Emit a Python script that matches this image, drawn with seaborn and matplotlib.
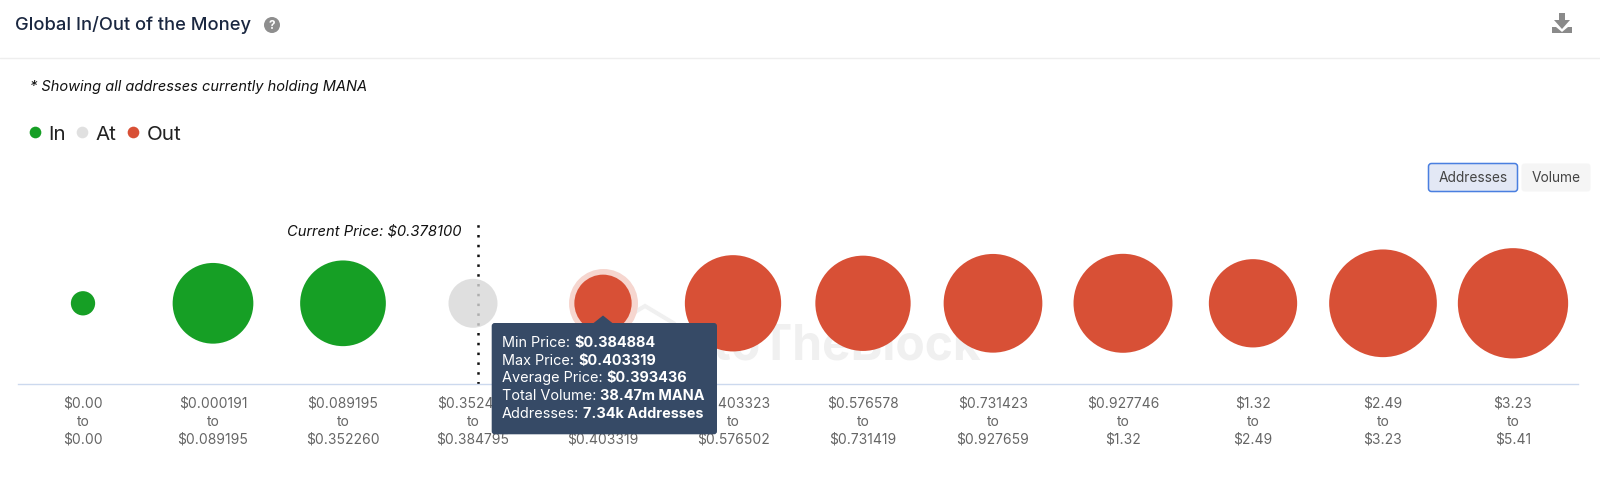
import numpy as np
import pandas as pd
import matplotlib
matplotlib.use("Agg")
import matplotlib.pyplot as plt
import seaborn as sns
from matplotlib.lines import Line2D
from matplotlib.patches import Circle, FancyBboxPatch, Polygon

# ---------------------------
# Data
# ---------------------------
range_low = ["$0.00", "$0.000191", "$0.089195", "$0.352410", "$0.384884", "$0.403323",
             "$0.576578", "$0.731423", "$0.927746", "$1.32", "$2.49", "$3.23"]
range_high = ["$0.00", "$0.089195", "$0.352260", "$0.384795", "$0.403319", "$0.576502",
              "$0.731419", "$0.927659", "$1.32", "$2.49", "$3.23", "$5.41"]
addresses_k = [1.32, 14.56, 16.42, 5.37, 7.34, 20.73, 20.30, 21.78, 21.90, 17.43, 25.93, 27.20]
status = ["In", "In", "In", "At", "Out", "Out", "Out", "Out", "Out", "Out", "Out", "Out"]

tooltip_keys = ["Min Price:", "Max Price:", "Average Price:", "Total Volume:", "Addresses:"]
tooltip_vals = ["$0.384884", "$0.403319", "$0.393436", "38.47m MANA", "7.34k Addresses"]

GREEN = "#169f25"
GREY = "#e0e0e0"
RED = "#d85036"
W, H = 1600, 481

sns.set_theme(style="white")
plt.rcParams["font.family"] = ["Inter", "DejaVu Sans"]

df = pd.DataFrame({
    "range": [f"{a}\nto\n{b}" for a, b in zip(range_low, range_high)],
    "addresses": addresses_k,
    "status": status,
})
df["level"] = 0

fig = plt.figure(figsize=(16, 4.81), dpi=100, facecolor="white")

# page furniture goes on pixel-coordinate axes, one behind the chart and one over it
back = fig.add_axes([0, 0, 1, 1], zorder=0)
front = fig.add_axes([0, 0, 1, 1], zorder=3)
for a in (back, front):
    a.set_xlim(0, W)
    a.set_ylim(H, 0)
    a.axis("off")
    a.patch.set_alpha(0)

ax = fig.add_axes([18 / W, 1 - 385 / H, 1560 / W, (385 - 223.6) / H], zorder=2)
ax.patch.set_alpha(0)

# the grey bubble is see-through, the dotted line shows faintly under it
palette = {"In": GREEN, "At": (0.847, 0.847, 0.847, 0.8), "Out": RED}

ax.axvline(3.04, color="#111111", lw=1.8, linestyle=(0, (1, 2.92)), zorder=1)

sns.scatterplot(data=df, x="range", y="level", hue="status", palette=palette,
                size="addresses", sizes=(0, 6957), size_norm=(0, 30),
                linewidth=0, legend=False, ax=ax, zorder=3)
hover = df[df["addresses"] == 7.34]
sns.scatterplot(data=hover, x="range", y="level", s=(69 * 0.72) ** 2, color="#f6d6cf",
                linewidth=0, legend=False, ax=ax, zorder=2)

ax.set_xlim(-0.5, 11.5)
ax.set_ylim(-1, 1)
ax.set_xlabel("")
ax.set_ylabel("")
ax.set_yticks([])
ax.tick_params(axis="x", length=0, pad=8.5, labelsize=10, labelcolor="#666666")
for lab in ax.get_xticklabels():
    lab.set_linespacing(1.36)
sns.despine(ax=ax, left=True)
ax.spines["bottom"].set_color("#ccd9ee")
ax.spines["bottom"].set_linewidth(1.0)

ax.text(3.04 - 16.5 / 130, 0.905, "Current Price: $0.378100", ha="right", va="center",
        fontsize=10.6, style="italic", color="#111111")

# watermark
back.add_patch(Polygon([(615, 325), (645, 307), (675, 325)], closed=False, fill=False,
                       edgecolor="#f0f0f0", lw=3))
back.text(982, 360, "IntoTheBlock", ha="right", va="baseline", fontsize=34.5, weight="bold",
          color="#f0f0f0")

# header
back.text(15, 24.5, "Global In/Out of the Money", ha="left", va="center", fontsize=13.2,
          weight="medium", color="#1a2740")
back.add_patch(Circle((272, 26), 8, color="#8e8e8e", lw=0))
back.text(272, 26, "?", ha="center", va="center", fontsize=8.5, weight="bold", color="white")
back.axhline(58.5, color="#eeeeee", lw=1)

# download icon
back.add_patch(Polygon([(1559, 14), (1565, 14), (1565, 21), (1570, 21), (1562, 30), (1554, 21), (1559, 21)],
                       color="#8a8a8a", lw=0))
back.add_patch(Polygon([(1552, 28), (1556, 28), (1562, 33), (1568, 28), (1572, 28), (1572, 34), (1552, 34)],
                       color="#8a8a8a", lw=0))

back.text(30, 87, "* Showing all addresses currently holding MANA", ha="left", va="center",
          fontsize=10.5, style="italic", color="#111111")

# legend
handles = [Line2D([], [], marker="o", linestyle="none", markersize=8.4, markeredgewidth=0,
                  color=c, label=l) for l, c in [("In", GREEN), ("At", GREY), ("Out", RED)]]
fig.legend(handles=handles, loc="center left", bbox_to_anchor=(6 / W, 1 - 135 / H), ncols=3,
           frameon=False, fontsize=14.8, handlelength=1, handletextpad=0.145, columnspacing=0.31,
           labelcolor="#222222")

# Addresses / Volume toggle
back.add_patch(FancyBboxPatch((1428.5, 164.5), 89, 28, boxstyle="round,pad=0,rounding_size=3",
                              facecolor="#e3e8f5", edgecolor="#4a7fe0", lw=1.1))
back.text(1473, 178.5, "Addresses", ha="center", va="center", fontsize=9.9, color="#444444")
back.add_patch(FancyBboxPatch((1521.5, 164.5), 69, 28, boxstyle="round,pad=0,rounding_size=3",
                              facecolor="#f5f5f5", edgecolor="none"))
back.text(1556, 178.5, "Volume", ha="center", va="center", fontsize=9.9, color="#444444")

# tooltip on the hovered bubble
TIP = "#364a66"
front.add_patch(FancyBboxPatch((491.7, 324), 225.3, 111.3, boxstyle="round,pad=0,rounding_size=3",
                               facecolor=TIP, edgecolor="none"))
front.add_patch(Polygon([(593, 324.5), (603, 316.5), (613, 324.5)], color=TIP, lw=0))
renderer = fig.canvas.get_renderer()
y = 342.7
for key, val in zip(tooltip_keys, tooltip_vals):
    t = front.text(502, y, key, ha="left", va="center", fontsize=10.4, color="white")
    x_end = front.transData.inverted().transform(t.get_window_extent(renderer))[1, 0]
    front.text(x_end + 4, y, val, ha="left", va="center", fontsize=10.4, weight="bold", color="white")
    y += 17.85

fig.savefig("out.png", dpi=100)
